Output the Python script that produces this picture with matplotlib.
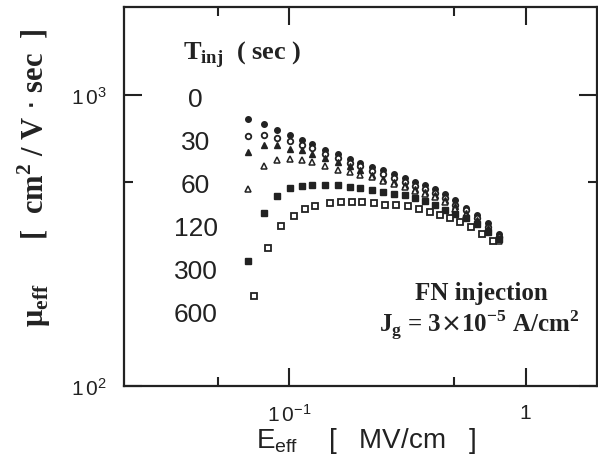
"""Effective mobility vs effective field after FN injection"""
import matplotlib
matplotlib.use("Agg")
import matplotlib.pyplot as plt
from matplotlib.ticker import FixedLocator, FixedFormatter, NullFormatter

plt.rcParams['font.family'] = ['Liberation Sans', 'DejaVu Sans']

# effective field (MV/cm), shared by the 0..300 sec curves
e_eff = [0.067, 0.0784, 0.089, 0.101, 0.1135, 0.1252, 0.1421, 0.1613, 0.1813,
         0.200, 0.2247, 0.2502, 0.2786, 0.3101, 0.342, 0.3771, 0.4156, 0.4581,
         0.505, 0.5623, 0.620, 0.6902, 0.7686]
# effective field for the 600 sec curve
e_eff_600 = [0.0711, 0.0815, 0.0925, 0.105, 0.1169, 0.1289, 0.1492, 0.1661,
             0.1849, 0.2038, 0.2292, 0.2552, 0.2841, 0.3193, 0.3555, 0.3958,
             0.4364, 0.481, 0.5305, 0.5905, 0.6511, 0.7249]

# mobility (cm2/V.sec) for each injection time
mu_0 = [826, 793, 756, 727, 699, 676, 645, 625, 601, 582, 564, 551, 533, 517,
        500, 488, 473, 455, 433, 409, 387, 361, 333]
mu_30 = [721, 727, 710, 693, 671, 655, 625, 605, 582, 568, 546, 533, 517, 500,
         484, 473, 458, 440, 419, 400, 378, 352, 325]
mu_60 = [635, 671, 671, 650, 645, 625, 605, 587, 568, 551, 529, 512, 500, 488,
         473, 462, 451, 433, 413, 393, 372, 347, 320]
mu_120 = [473, 568, 596, 601, 596, 587, 568, 551, 542, 529, 521, 504, 492, 480,
          465, 455, 444, 426, 406, 387, 366, 341, 315]
mu_300 = [269, 393, 447, 476, 484, 488, 488, 488, 480, 476, 469, 462, 455, 451,
          440, 430, 416, 403, 390, 378, 358, 338, 318]
mu_600 = [203, 298, 355, 384, 406, 413, 423, 426, 426, 426, 423, 419, 416, 413,
          406, 396, 387, 378, 366, 352, 333, 313]

t_inj = ['0', '30', '60', '120', '300', '600']

fig = plt.figure(figsize=(5.98, 4.6), dpi=100)
ax = fig.add_axes([0.207, 0.159, 0.791, 0.824])

ink = '#222222'
ax.plot(e_eff, mu_0, 'o', ms=4.0, color=ink, mec=ink)
ax.plot(e_eff, mu_30, 'o', ms=4.0, mfc='white', mec=ink, mew=1.3)
ax.plot(e_eff, mu_60, '^', ms=3.8, color=ink, mec=ink)
ax.plot(e_eff, mu_120, '^', ms=4.0, mfc='white', mec=ink, mew=1.1)
ax.plot(e_eff, mu_300, 's', ms=4.0, color=ink, mec=ink)
ax.plot(e_eff_600, mu_600, 's', ms=4.2, mfc='white', mec=ink, mew=1.3)

ax.set_xscale('log')
ax.set_yscale('log')
ax.set_xlim(0.02, 2)
ax.set_ylim(100, 2000)

ax.xaxis.set_major_locator(FixedLocator([0.1, 1]))
ax.xaxis.set_major_formatter(FixedFormatter([r'$\mathregular{1\,0^{-1}}$', '1']))
ax.xaxis.set_minor_locator(FixedLocator([0.05, 0.5]))
ax.xaxis.set_minor_formatter(NullFormatter())
ax.yaxis.set_major_locator(FixedLocator([100, 1000]))
ax.yaxis.set_major_formatter(FixedFormatter([r'$\mathregular{1\,0^{2}}$',
                                             r'$\mathregular{1\,0^{3}}$']))
ax.yaxis.set_minor_locator(FixedLocator([500]))
ax.yaxis.set_minor_formatter(NullFormatter())

ax.tick_params(which='both', direction='in', top=True, right=True,
               width=1.5, colors=ink, labelsize=15)
ax.tick_params(which='major', length=13)
ax.tick_params(which='minor', length=6.5)
ax.tick_params(axis='y', pad=12)
ax.tick_params(axis='x', pad=12)
for s in ax.spines.values():
    s.set_linewidth(1.6)
    s.set_color(ink)

# injection time labels
ax.text(0.125, 0.878, r'T$_{\mathregular{inj}}$  ( sec )', transform=ax.transAxes,
        family='Liberation Serif', weight='bold', fontsize=19, color=ink,
        ha='left', va='center')
for i, lab in enumerate(t_inj):
    ax.text(0.152, 0.757 - 0.1135 * i, lab, transform=ax.transAxes,
            fontsize=19, color=ink, ha='center', va='center')

ax.text(0.755, 0.23, 'FN injection', transform=ax.transAxes,
        family='Liberation Serif', weight='bold', fontsize=18, color=ink,
        ha='center', va='baseline')
ax.text(0.752, 0.142, r'J$_{\mathregular{g}}$ = 3$\times$10$^{\mathregular{-5}}$ A/cm$^{\mathregular{2}}$',
        transform=ax.transAxes, family='Liberation Serif', weight='bold',
        fontsize=18, color=ink, ha='center', va='baseline')

fig.text(366 / 598, 1 - 448 / 460, r'E$_{\mathregular{eff}}$    [   MV/cm   ]',
         fontsize=20, color=ink, ha='center', va='baseline')
fig.text(34 / 598, 1 - 178 / 460,
         r'$\mathregular{\mu}_{\mathregular{eff}}$      [  cm$^{\mathregular{2}}$ / V $\cdot$ sec  ]',
         family='Liberation Serif', weight='bold', fontsize=22, color=ink,
         rotation=90, ha='center', va='center')

fig.savefig('out.png', dpi=100)
